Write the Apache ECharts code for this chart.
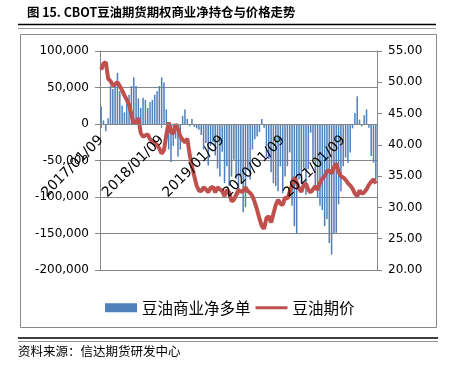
<!DOCTYPE html>
<html>
<head>
<meta charset="utf-8">
<script src="https://cdn.jsdelivr.net/npm/echarts@6/dist/echarts.min.js"></script>
<style>
html,body{margin:0;padding:0;background:#fff;}
#c{width:466px;height:367px;}
</style>
</head>
<body>
<div id="c"></div>
<script>
// Category dates: bi-weekly, starting each year on 01/09
const years = [2017, 2018, 2019, 2020, 2021];
const pointsPerYear = [26, 26, 26, 26, 15];
const dates = [];
years.forEach(function (y, k) {
  for (let j = 0; j < pointsPerYear[k]; j++) {
    const d = new Date(Date.UTC(y, 0, 9 + j * 14));
    const mm = String(d.getUTCMonth() + 1).padStart(2, '0');
    const dd = String(d.getUTCDate()).padStart(2, '0');
    dates.push(d.getUTCFullYear() + '/' + mm + '/' + dd);
  }
});

// 豆油商业净多单 (contracts)
const netLong = [
  24000, 5000, -10000, 8000, 52000, 48000, 57000, 70000, 45000, 25000,
  16000, 34000, 40000, 52000, 64000, 52000, 35000, 22000, 36000, 33000,
  22000, 30000, 33000, 40000, 45000, 52000, 64000, 57000, 20000, -35000,
  -52000, -30000, -20000, -45000, -35000, 11000, 20000, 7000, -3000, 7000,
  -4000, -6000, -8000, -15000, -35000, -26000, -57000, -30000, -25000, -43000,
  -61000, -72000, -38000, -81000, -58000, -85000, -72000, -49000, -75000, -97000,
  -70000, -121000, -114000, -62000, -76000, -35000, -21000, -17000, -11000, 7000,
  -5000, -45000, -48000, -66000, -81000, -85000, -92000, -58000, -95000, -72000,
  -58000, -39000, -112000, -140000, -150000, -76000, -82000, -60000, -97000, -62000,
  -12000, -48000, -90000, -101000, -112000, -118000, -140000, -130000, -163000, -179000,
  -150000, -149000, -110000, -92000, -58000, -46000, -53000, -39000, -6000, 15000,
  38000, 6000, -3000, 12000, 20000, -5000, -44000, -53000, -76000
];

// 豆油期价 (cents/lb)
const price = [
  52.0, 53.0, 53.2, 50.6, 50.2, 49.5, 49.7, 50.0, 49.4, 48.7,
  47.9, 47.2, 46.4, 44.8, 43.4, 43.6, 44.3, 41.9, 41.3, 41.5,
  41.7, 40.9, 40.5, 40.3, 40.0, 39.4, 38.6, 39.2, 41.6, 43.6,
  42.0, 41.8, 43.3, 42.5, 41.4, 40.8, 40.4, 41.0, 38.5, 36.6,
  35.0, 33.5, 32.7, 32.6, 33.2, 32.9, 32.4, 33.1, 33.3, 32.4,
  33.2, 32.9, 32.6, 31.8, 32.8, 32.4, 31.0, 31.2, 32.0, 32.8,
  32.5, 32.6, 33.2, 32.6, 32.3, 31.8, 30.8, 29.6, 28.2, 27.0,
  26.6, 28.3, 28.6, 27.6, 29.0, 30.4, 31.2, 30.6, 30.4, 31.6,
  31.4, 32.5, 33.6, 34.8, 34.0, 33.0, 32.5, 33.6, 33.8, 32.8,
  32.4, 32.9, 33.4, 32.8, 33.9, 34.6, 35.0, 35.8, 35.9, 35.4,
  36.4, 37.0, 35.7, 35.0, 34.8, 34.4, 33.9, 33.5, 33.0, 32.2,
  31.8, 32.7, 32.2, 32.4, 32.9, 33.6, 34.1, 34.5, 33.8
];

const seriesNames = ['豆油商业净多单', '豆油期价'];
const titleText = '图 15. CBOT豆油期货期权商业净持仓与价格走势';
const sourceText = '资料来源：信达期货研发中心';

const gridColor = '#868686';
const yearTick = function (i) { return i === 0 || i === 26 || i === 52 || i === 78 || i === 104; };

const chart = echarts.init(document.getElementById('c'), null, { renderer: 'canvas' });
chart.setOption({
  animation: false,
  backgroundColor: '#fff',
  grid: { left: 100, right: 89, top: 51, bottom: 97, containLabel: false },
  legend: {
    left: 100, top: 295,
    itemWidth: 32, itemHeight: 9, itemGap: 5,
    textStyle: { fontSize: 15.5, color: '#000', fontFamily: 'Noto Sans CJK SC' },
    data: [
      { name: seriesNames[0], icon: 'rect' },
      { name: seriesNames[1], icon: 'path://M0,0 L32,0 L32,3 L0,3 Z' }
    ]
  },
  xAxis: {
    type: 'category',
    data: dates,
    boundaryGap: true,
    position: 'bottom',
    offset: -146,
    z: 10,
    axisLine: { onZero: false, lineStyle: { color: gridColor, width: 1 } },
    axisTick: { show: true, alignWithLabel: true, interval: yearTick, length: 4, lineStyle: { color: gridColor } },
    axisLabel: {
      interval: yearTick, rotate: 45, margin: 14, padding: [10, 0, 0, 0],
      fontSize: 14, color: '#000', fontFamily: 'DejaVu Sans'
    },
    splitLine: { show: false }
  },
  yAxis: [
    {
      type: 'value', min: -200000, max: 100000, interval: 50000,
      axisLine: { show: true, onZero: false, lineStyle: { color: gridColor } },
      axisTick: { show: true, length: 5, lineStyle: { color: gridColor } },
      axisLabel: {
        margin: 11, fontSize: 12, color: '#000', fontFamily: 'DejaVu Sans',
        formatter: function (v) { return v.toLocaleString('en-US'); }
      },
      splitLine: { show: true, lineStyle: { color: gridColor, width: 1 } }
    },
    {
      type: 'value', min: 20, max: 55, interval: 5, position: 'right',
      axisLine: { show: true, onZero: false, lineStyle: { color: gridColor } },
      axisTick: { show: true, length: 5, lineStyle: { color: gridColor } },
      axisLabel: {
        margin: 11, fontSize: 12, color: '#000', fontFamily: 'DejaVu Sans',
        formatter: function (v) { return v.toFixed(2); }
      },
      splitLine: { show: false }
    }
  ],
  series: [
    {
      name: seriesNames[0], type: 'bar', data: netLong, yAxisIndex: 0,
      barWidth: '65%',
      itemStyle: { color: '#4F81BD' }, z: 2
    },
    {
      name: seriesNames[1], type: 'line', data: price, yAxisIndex: 1,
      symbol: 'none', smooth: false,
      lineStyle: { color: '#C0504D', width: 4 },
      itemStyle: { color: '#C0504D' }, z: 3
    }
  ],
  graphic: [
    { type: 'text', left: 27, top: 6, style: { text: titleText, font: 'bold 12.4px "Noto Sans CJK SC"', fill: '#000' } },
    { type: 'line', shape: { x1: 18, y1: 24.5, x2: 436, y2: 24.5 }, style: { stroke: '#000', lineWidth: 1.5 } },
    { type: 'line', shape: { x1: 18, y1: 28.5, x2: 436, y2: 28.5 }, style: { stroke: '#999', lineWidth: 1 } },
    { type: 'rect', shape: { x: 20.5, y: 34.5, width: 416, height: 293 }, style: { fill: 'none', stroke: '#888', lineWidth: 1 }, z: -1 },
    { type: 'line', shape: { x1: 18, y1: 338, x2: 438, y2: 338 }, style: { stroke: '#000', lineWidth: 1.5 } },
    { type: 'line', shape: { x1: 18, y1: 341.5, x2: 438, y2: 341.5 }, style: { stroke: '#999', lineWidth: 1 } },
    { type: 'text', left: 18, top: 345, style: { text: sourceText, font: '12.5px "Noto Sans CJK SC"', fill: '#000' } }
  ]
});
</script>
</body>
</html>
